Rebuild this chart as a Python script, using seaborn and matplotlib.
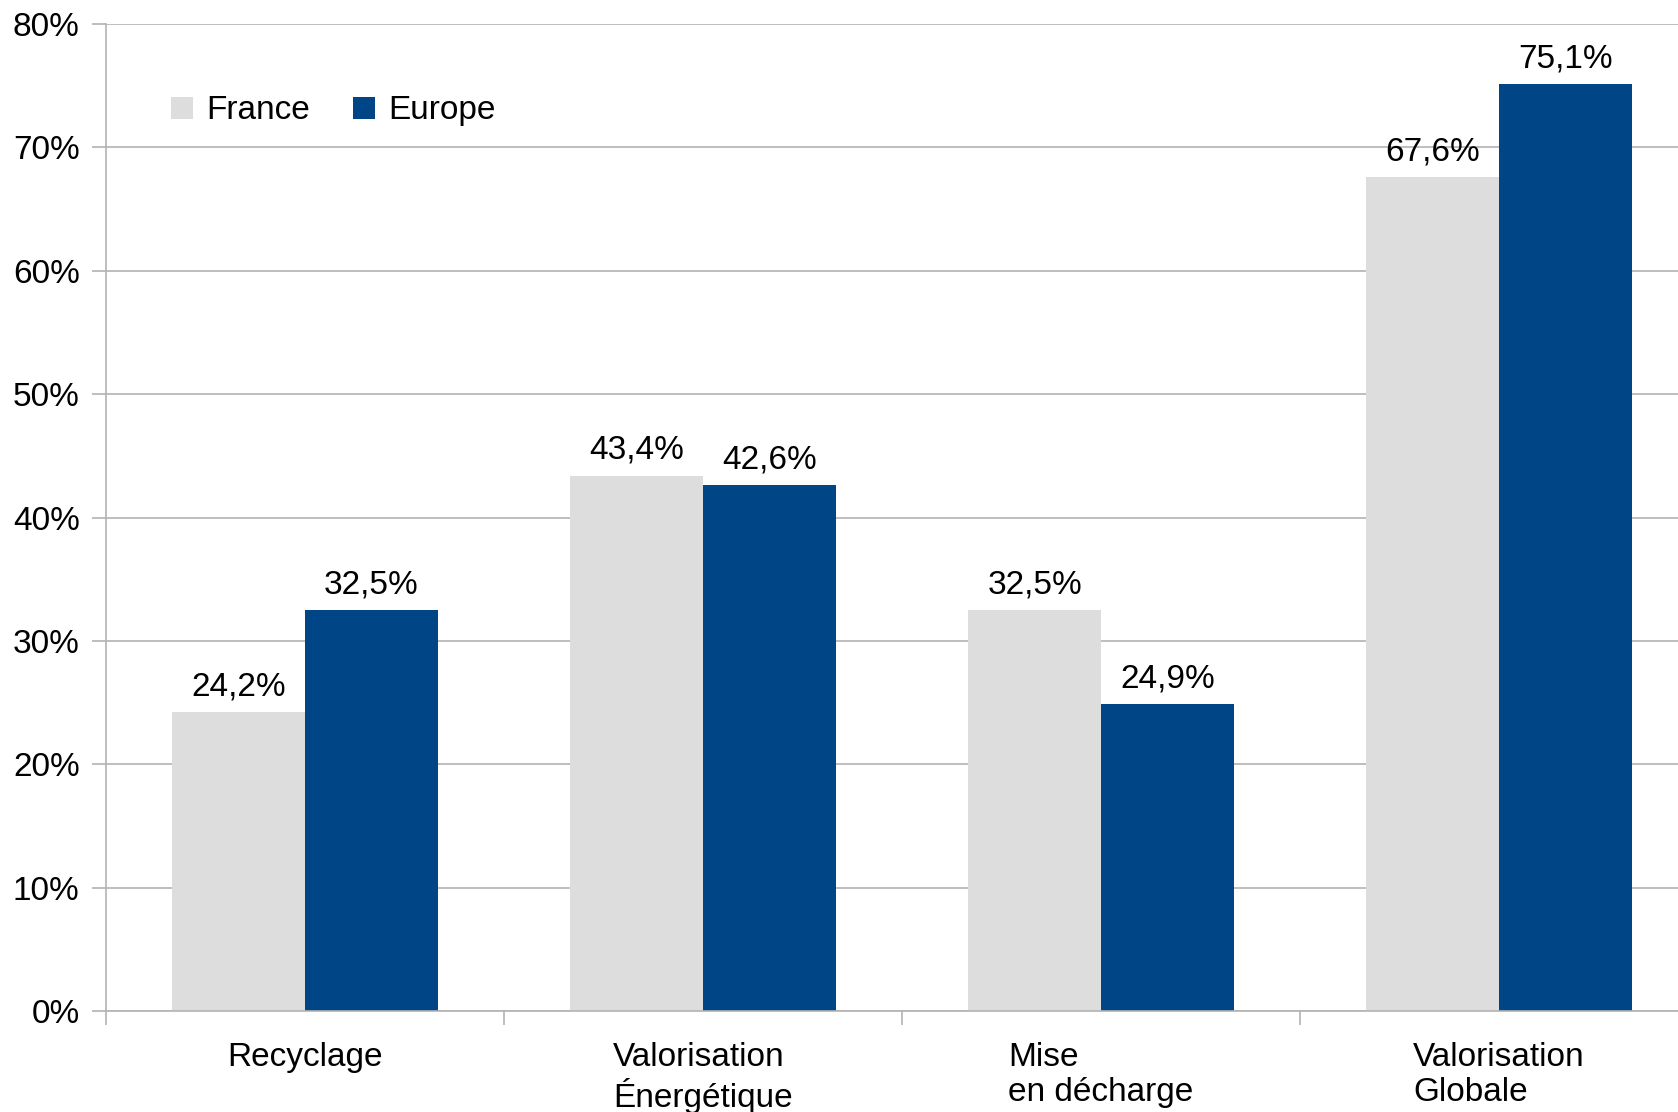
import matplotlib
matplotlib.use("Agg")
import numpy as np
import pandas as pd
import matplotlib.pyplot as plt
import seaborn as sns
from matplotlib.ticker import FixedLocator, FuncFormatter


# %%
# data (percent)

categories = ["Recyclage", "Valorisation\nÉnergétique", "Mise\nen décharge", "Valorisation\nGlobale"]
france = [24.2, 43.4, 32.5, 67.6]
europe = [32.5, 42.6, 24.9, 75.1]
series = ["France", "Europe"]
colors = ["#dddddd", "#004586"]

df = pd.DataFrame({
    "cat": categories * 2,
    "val": france + europe,
    "pays": ["France"] * 4 + ["Europe"] * 4,
})


# %%
sns.set_style("white")
plt.rcParams["font.family"] = ["Liberation Sans", "DejaVu Sans"]
plt.rcParams["text.color"] = "black"
plt.rcParams["xtick.labelcolor"] = "black"
plt.rcParams["ytick.labelcolor"] = "black"

fig = plt.figure(figsize=(16.78, 11.12), dpi=100)
ax = fig.add_axes([0.0632, 0.0908, 0.9487, 0.8876])

sns.barplot(data=df, x="cat", y="val", hue="pays", hue_order=series,
            palette=colors, saturation=1, width=2/3, gap=0,
            edgecolor="none", linewidth=0, ax=ax)

ax.set_xlim(-0.5, 3.5)
ax.set_ylim(0, 80)
ax.set_xlabel("")
ax.set_ylabel("")

# grid + axes
grey = "#b3b3b3"
ax.yaxis.set_major_locator(FixedLocator(np.arange(0, 81, 10)))
ax.yaxis.set_major_formatter(FuncFormatter(lambda v, p: f"{v:.0f}%"))
ax.grid(axis="y", color=grey, linewidth=1.2)
ax.set_axisbelow(True)
for s in ["top", "right"]:
    ax.spines[s].set_visible(False)
for s in ["left", "bottom"]:
    ax.spines[s].set_color(grey)
    ax.spines[s].set_linewidth(1.2)

ax.tick_params(axis="y", left=True, length=10, width=1.2, color=grey,
               labelsize=24, pad=9)
ax.set_xticks(range(4))
ax.set_xticklabels(categories, fontsize=24, multialignment="left", linespacing=1.2)
ax.tick_params(axis="x", which="major", length=0, pad=22)
ax.set_xticks(np.arange(-0.5, 4.0, 1.0), minor=True)
ax.tick_params(axis="x", which="minor", bottom=True, length=10, width=1.2, color=grey)

# value labels with comma decimal
for cont in ax.containers:
    labels = [f"{b.get_height():.1f}%".replace(".", ",") for b in cont]
    ax.bar_label(cont, labels=labels, padding=7, fontsize=24, color="black")

# legend
leg = ax.legend(ncol=2, frameon=False, fontsize=24, loc="upper left",
                bbox_to_anchor=(0.022, 0.958), handlelength=0.65, handleheight=0.65,
                handletextpad=0.4, columnspacing=1.3)

plt.savefig("out.png", dpi=100)
